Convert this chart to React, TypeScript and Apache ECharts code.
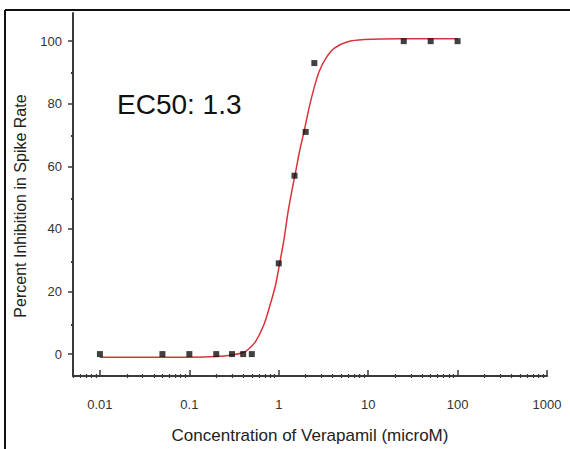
import React, { useEffect, useRef } from 'react';
import * as echarts from 'echarts';

// measured points (concentration in microM, % inhibition)
const concentration = [0.01, 0.05, 0.1, 0.2, 0.3, 0.4, 0.5, 1, 1.5, 2, 2.5, 25, 50, 100];
const inhibition = [0, 0, 0, 0, 0, 0, 0, 29, 57, 71, 93, 100, 100, 100];

// fitted curve
const fitX = [0.01, 0.05, 0.1, 0.2, 0.3, 0.4, 0.45, 0.55, 0.68, 0.8, 0.92, 1.03, 1.15, 1.28, 1.42, 1.55, 1.7, 1.92, 2.18, 2.48, 2.83, 3.36, 4.15, 5.9, 9, 23, 100];
const fitY = [-1, -1, -1, -0.8, -0.3, 0.5, 1.4, 4, 9.3, 15.7, 22, 29.4, 37, 46, 53, 58.5, 64.5, 71.2, 78.6, 85, 90.3, 94.5, 97.7, 99.8, 100.5, 100.8, 100.8];

const xTicks = [0.01, 0.1, 1, 10, 100, 1000];
const xMinorTicks = [
  0.005, 0.006, 0.007, 0.008, 0.009,
  0.02, 0.03, 0.04, 0.05, 0.06, 0.07, 0.08, 0.09,
  0.2, 0.3, 0.4, 0.5, 0.6, 0.7, 0.8, 0.9,
  2, 3, 4, 5, 6, 7, 8, 9,
  20, 30, 40, 50, 60, 70, 80, 90,
  200, 300, 400, 500, 600, 700, 800, 900,
];
const yTicks = [0, 20, 40, 60, 80, 100];
const yMinorTicks = [10, 30, 50, 70, 90];

const X_MIN = 0.005;
const X_MAX = 1000;
const Y_MIN = -7;
const Y_MAX = 109;

const FONT = '"Liberation Sans", Arial, sans-serif';
const AXIS = '#3a3a3a';

const fmt = (v: number) => String(parseFloat(Number(v).toPrecision(3)));

const App: React.FC = () => {
  const ref = useRef<HTMLDivElement>(null);

  useEffect(() => {
    if (!ref.current) return;
    const chart = echarts.init(ref.current, undefined, { renderer: 'svg' });

    const grid = { left: 73, right: 23, top: 13, bottom: 71 };
    chart.setOption({
      animation: false,
      backgroundColor: '#ffffff',
      grid: [grid, { ...grid }],
      xAxis: [
        {
          type: 'log',
          gridIndex: 0,
          logBase: 10,
          min: X_MIN,
          max: X_MAX,
          axisLine: { onZero: false, lineStyle: { color: AXIS, width: 2 } },
          axisTick: { inside: true, length: 6, customValues: xTicks, lineStyle: { color: AXIS, width: 1.5 } },
          axisLabel: {
            customValues: xTicks,
            formatter: fmt,
            color: '#333',
            fontFamily: FONT,
            fontSize: 13,
            margin: 22,
          },
          splitLine: { show: false },
          name: 'Concentration of Verapamil (microM)',
          nameLocation: 'middle',
          nameGap: 51,
          nameTextStyle: { color: '#222', fontFamily: FONT, fontSize: 17 },
        },
        {
          type: 'log',
          gridIndex: 1,
          logBase: 10,
          min: X_MIN,
          max: X_MAX,
          axisLine: { show: false, onZero: false },
          axisTick: { inside: true, length: 4, customValues: xMinorTicks, lineStyle: { color: AXIS, width: 1.2 } },
          axisLabel: { show: false },
          splitLine: { show: false },
        },
      ],
      yAxis: [
        {
          type: 'value',
          gridIndex: 0,
          min: Y_MIN,
          max: Y_MAX,
          axisLine: { show: true, onZero: false, lineStyle: { color: AXIS, width: 2 } },
          axisTick: { show: true, length: 5, customValues: yTicks, lineStyle: { color: AXIS, width: 1.5 } },
          axisLabel: {
            customValues: yTicks,
            color: '#333',
            fontFamily: FONT,
            fontSize: 13,
            margin: 11,
          },
          splitLine: { show: false },
        },
        {
          type: 'value',
          gridIndex: 1,
          min: Y_MIN,
          max: Y_MAX,
          axisLine: { show: false, onZero: false },
          axisTick: { show: true, length: 2, customValues: yMinorTicks, lineStyle: { color: AXIS, width: 2 } },
          axisLabel: { show: false },
          splitLine: { show: false },
        },
      ],
      series: [
        {
          type: 'line',
          name: 'fit',
          xAxisIndex: 0,
          yAxisIndex: 0,
          data: fitX.map((x, i) => [x, fitY[i]]),
          smooth: 0.3,
          showSymbol: false,
          symbol: 'none',
          lineStyle: { color: '#d8343c', width: 1.5 },
          z: 2,
        },
        {
          type: 'scatter',
          name: 'data',
          xAxisIndex: 0,
          yAxisIndex: 0,
          data: concentration.map((x, i) => [x, inhibition[i]]),
          symbol: 'rect',
          symbolSize: 6,
          itemStyle: { color: '#111' },
          z: 3,
        },
      ],
      graphic: [
        {
          type: 'line',
          shape: { x1: 5, y1: 10, x2: 570, y2: 10 },
          style: { stroke: '#111', lineWidth: 2 },
        },
        {
          type: 'line',
          shape: { x1: 5, y1: 10, x2: 5, y2: 449 },
          style: { stroke: '#111', lineWidth: 2 },
        },
        {
          type: 'text',
          x: 117,
          y: 104,
          style: {
            text: 'EC50: 1.3',
            fill: '#111',
            font: `28px ${FONT}`,
            textVerticalAlign: 'middle',
          },
        },
        {
          type: 'text',
          x: 20,
          y: 206,
          rotation: Math.PI / 2,
          style: {
            text: 'Percent Inhibition in Spike Rate',
            fill: '#222',
            font: `16px ${FONT}`,
            textAlign: 'center',
            textVerticalAlign: 'middle',
          },
        },
      ],
    });

    return () => {
      chart.dispose();
    };
  }, []);

  return (
    <div
      ref={ref}
      style={{ position: 'fixed', left: 0, top: 0, width: 570, height: 449, background: '#fff' }}
    />
  );
};

export default App;
